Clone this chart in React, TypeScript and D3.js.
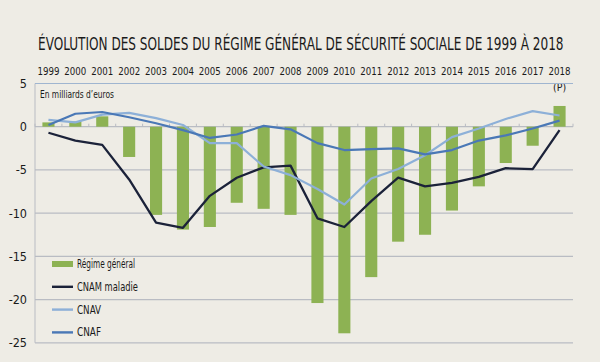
import React, { useLayoutEffect, useRef, useState } from "react";
import * as d3 from "d3";

const years = ["1999","2000","2001","2002","2003","2004","2005","2006","2007","2008","2009","2010","2011","2012","2013","2014","2015","2016","2017","2018"];
const regimeGeneral = [0.5,0.6,1.2,-3.5,-10.2,-11.9,-11.6,-8.8,-9.5,-10.2,-20.4,-23.9,-17.4,-13.3,-12.5,-9.7,-6.9,-4.2,-2.2,2.4];
const cnamMaladie = [-0.7,-1.6,-2.1,-6.1,-11.1,-11.7,-8.0,-5.9,-4.7,-4.5,-10.6,-11.6,-8.6,-5.9,-6.9,-6.5,-5.8,-4.8,-4.9,-0.4];
const cnav = [0.8,0.5,1.4,1.6,1.0,0.2,-1.9,-1.9,-4.6,-5.6,-7.2,-9.0,-6.0,-4.9,-3.3,-1.2,-0.2,0.9,1.8,1.3];
const cnaf = [0.2,1.5,1.7,1.1,0.4,-0.4,-1.3,-0.9,0.1,-0.3,-1.9,-2.7,-2.6,-2.5,-3.2,-2.7,-1.6,-1.0,-0.2,0.7];
const yTicks = [5,0,-5,-10,-15,-20,-25];

const title = "ÉVOLUTION DES SOLDES DU RÉGIME GÉNÉRAL DE SÉCURITÉ SOCIALE DE 1999 À 2018";
const unitLabel = "En milliards d\u2019euros";

const C = {
  bg: "#eeece5",
  green: "#8db253",
  navy: "#1b2239",
  cnav: "#8db0d8",
  cnaf: "#4a78b6",
  grid: "#b9bcc3",
  gridTop: "#9fb5d0",
  text: "#1a1a1a",
};

const FONT = "'DejaVu Sans Condensed', 'Liberation Sans Narrow', sans-serif";

export default function App() {
  const W = 600, H = 362;
  const titleRef = useRef<SVGTextElement>(null);
  const [titleScale, setTitleScale] = useState(0.8);
  useLayoutEffect(() => {
    if (titleRef.current) {
      const w = titleRef.current.getComputedTextLength();
      if (w > 0) setTitleScale(526 / w);
    }
  }, []);

  const x = d3.scaleBand<string>().domain(years).range([35, 573]).paddingInner(0).paddingOuter(0);
  const y = d3.scaleLinear().domain([-25, 5]).range([342.8, 83.5]);
  const bw = x.bandwidth() * 0.45;
  const cx = (yr: string) => (x(yr) as number) + x.bandwidth() / 2;

  const line = d3.line<number>().x((_, i) => cx(years[i])).y((v) => y(v));

  const series = [
    { name: "CNAM maladie", data: cnamMaladie, color: C.navy, w: 2.3, tl: 61 },
    { name: "CNAV", data: cnav, color: C.cnav, w: 2.2, tl: 24 },
    { name: "CNAF", data: cnaf, color: C.cnaf, w: 2.2, tl: 24 },
  ];

  const legendY0 = 264, legendDy = 22.8;

  return (
    <div style={{ position: "fixed", left: 0, top: 0 }}>
      <svg width={W} height={H} style={{ display: "block" }} fontFamily={FONT}>
        <rect x={0} y={0} width={W} height={H} fill={C.bg} />
        <g transform={`translate(38,50) scale(${titleScale},1)`}>
          <text ref={titleRef} x={0} y={0} fontSize={18.5} fill={C.text}>{title}</text>
        </g>
        {years.map((yr) => (
          <text key={yr} x={cx(yr) - 11} y={75} fontSize={11} fill={C.text} textLength={22} lengthAdjust="spacingAndGlyphs">{yr}</text>
        ))}
        <text x={cx("2018")} y={91} fontSize={10.5} textAnchor="middle" fill={C.text}>(P)</text>

        {/* y axis line */}
        <line x1={35} x2={35} y1={y(5)} y2={y(-25)} stroke={C.grid} strokeWidth={1} />
        {yTicks.map((t) => (
          <g key={t}>
            <line x1={35} x2={573} y1={y(t)} y2={y(t)} stroke={t === 5 ? C.gridTop : C.grid} strokeWidth={1.2} />
            <text x={27} y={y(t) + 4.5} fontSize={12.5} textAnchor="end" fill={C.text}>{t}</text>
          </g>
        ))}
        <text x={40} y={98} fontSize={11} fill={C.text} textLength={74} lengthAdjust="spacingAndGlyphs">{unitLabel}</text>

        {/* bars */}
        {regimeGeneral.map((v, i) => {
          const yr = years[i];
          return (
            <rect key={yr} x={cx(yr) - bw / 2} y={Math.min(y(v), y(0))} width={bw} height={Math.abs(y(v) - y(0))} fill={C.green} />
          );
        })}
        {/* zero-line ticks */}
        {years.concat(["end"]).map((yr, i) => {
          const xx = 35 + i * x.bandwidth();
          return <line key={"t" + i} x1={xx} x2={xx} y1={y(0)} y2={y(0) - 3} stroke={C.grid} strokeWidth={1} />;
        })}

        {series.map((s) => (
          <path key={s.name} d={line(s.data) || ""} fill="none" stroke={s.color} strokeWidth={s.w} strokeLinejoin="round" />
        ))}

        {/* legend */}
        <rect x={52} y={legendY0 - 3} width={21} height={6} fill={C.green} />
        <text x={77} y={legendY0 + 4} fontSize={12} fill={C.text} textLength={58} lengthAdjust="spacingAndGlyphs">Régime général</text>
        {series.map((s, i) => {
          const ly = legendY0 + legendDy * (i + 1);
          return (
            <g key={"lg" + s.name}>
              <line x1={52} x2={73} y1={ly} y2={ly} stroke={s.color} strokeWidth={2.4} />
              <text x={77} y={ly + 4} fontSize={12} fill={C.text} textLength={s.tl} lengthAdjust="spacingAndGlyphs">{s.name}</text>
            </g>
          );
        })}
      </svg>
    </div>
  );
}
